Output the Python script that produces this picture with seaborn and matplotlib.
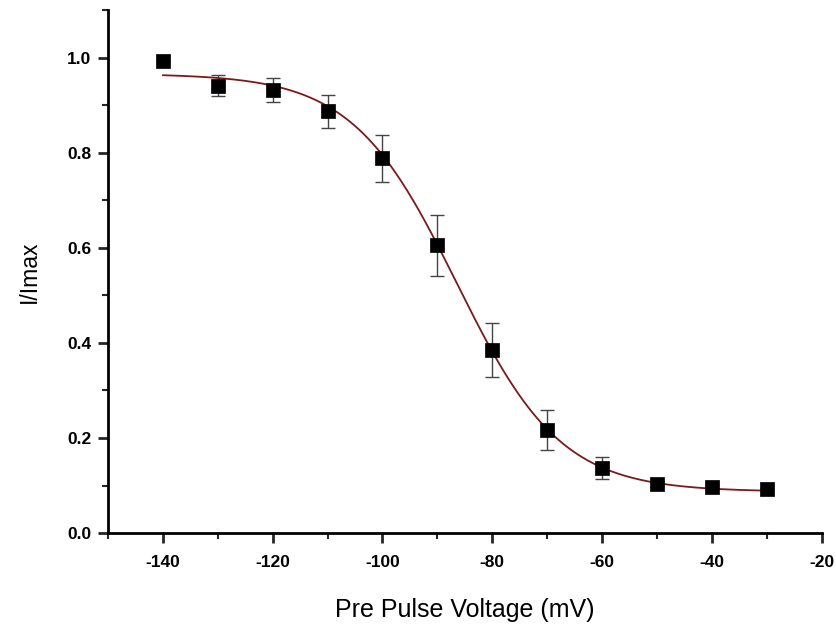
import numpy as np
import pandas as pd
import matplotlib
matplotlib.use("Agg")
import matplotlib.pyplot as plt
import seaborn as sns
from matplotlib.ticker import MultipleLocator

# Data
voltage = [-140, -130, -120, -110, -100, -90, -80, -70, -60, -50, -40, -30]
i_norm = [0.992, 0.941, 0.931, 0.887, 0.788, 0.605, 0.385, 0.217, 0.137, 0.104, 0.098, 0.092]
i_err = [0.0, 0.022, 0.025, 0.035, 0.050, 0.064, 0.057, 0.042, 0.023, 0.006, 0.004, 0.0]

# Boltzmann fit parameters
A1, A2, Vhalf, slope_k = 0.966, 0.087, -86.5, 9.5

x_ticks = [-140, -120, -100, -80, -60, -40, -20]
y_ticks = [0.0, 0.2, 0.4, 0.6, 0.8, 1.0]

sns.set_style("ticks")
plt.rcParams['font.family'] = ['Liberation Sans', 'DejaVu Sans']

fig = plt.figure(figsize=(8.36, 6.25), dpi=100)
ax = fig.add_axes([0.129, 0.147, 0.854, 0.837])

vfit = np.linspace(min(voltage), max(voltage), 400)
ifit = A2 + (A1 - A2) / (1 + np.exp((vfit - Vhalf) / slope_k))
fit_df = pd.DataFrame({"V": vfit, "I": ifit})
df = pd.DataFrame({"V": voltage, "I": i_norm, "err": i_err})

ax.errorbar(df["V"], df["I"], yerr=df["err"], fmt="none", ecolor="#444444",
            elinewidth=1.0, capsize=5, capthick=1.0, zorder=2)
sns.lineplot(data=fit_df, x="V", y="I", ax=ax, color="#7a1a1a", linewidth=1.3, zorder=3)
sns.scatterplot(data=df, x="V", y="I", ax=ax, marker="s", s=90, color="black",
                edgecolor="black", linewidth=0.5, zorder=4)

ax.set_xlim(-150, -20)
ax.set_ylim(0, 1.1)
ax.set_xticks(x_ticks)
ax.set_yticks(y_ticks)
ax.xaxis.set_minor_locator(MultipleLocator(10))
ax.yaxis.set_minor_locator(MultipleLocator(0.1))
ax.set_yticklabels([f"{v:.1f}" for v in y_ticks])
ax.set_xticklabels([str(v) for v in x_ticks])

for lab in ax.get_xticklabels() + ax.get_yticklabels():
    lab.set_fontweight("bold")
    lab.set_fontsize(12.5)
    lab.set_color("black")

ax.tick_params(axis="both", which="major", direction="out", length=7, width=2)
ax.tick_params(axis="x", which="major", pad=9)
ax.tick_params(axis="y", which="major", pad=5)
ax.tick_params(axis="both", which="minor", direction="out", length=4, width=1.5)
for side in ["left", "bottom"]:
    ax.spines[side].set_linewidth(2)
    ax.spines[side].set_color("black")
sns.despine(ax=ax)

ax.set_xlabel("Pre Pulse Voltage (mV)", fontsize=18, labelpad=20, color="black")
ax.set_ylabel("I/Imax", fontsize=16.5, labelpad=19, color="black")

fig.savefig("out.png", dpi=100)
